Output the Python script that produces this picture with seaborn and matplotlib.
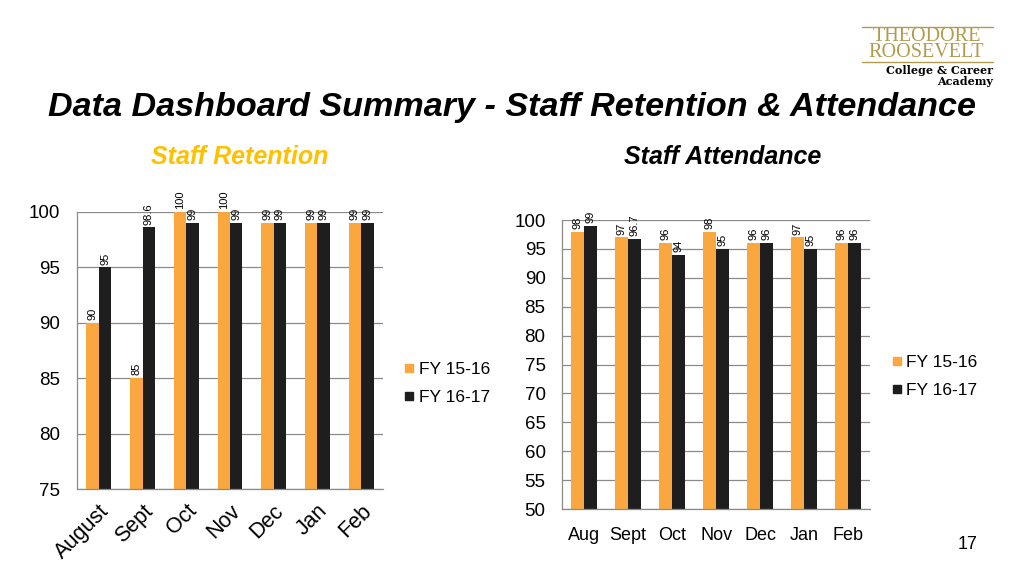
import pandas as pd
import seaborn as sns
import matplotlib.pyplot as plt
import matplotlib.transforms as mtransforms
from matplotlib.lines import Line2D

# === Data ===
ret_months = ["August", "Sept", "Oct", "Nov", "Dec", "Jan", "Feb"]
ret_fy1516 = [90, 85, 100, 100, 99, 99, 99]
ret_fy1617 = [95, 98.6, 99, 99, 99, 99, 99]

att_months = ["Aug", "Sept", "Oct", "Nov", "Dec", "Jan", "Feb"]
att_fy1516 = [98, 97, 96, 98, 96, 97, 96]
att_fy1617 = [99, 96.7, 94, 95, 96, 95, 96]

series = ["FY 15-16", "FY 16-17"]
colors = {"FY 15-16": "#F9A73E", "FY 16-17": "#1E1E1E"}
GRID = "#8A8A8A"


def long_form(months, a, b):
    rows = []
    for m, v in zip(months, a):
        rows.append({"month": m, "fy": series[0], "value": v})
    for m, v in zip(months, b):
        rows.append({"month": m, "fy": series[1], "value": v})
    return pd.DataFrame(rows)


def style_axis(ax, lo, hi, step, n):
    ax.set_ylim(lo, hi)
    ax.set_xlim(-0.5, n - 0.5)
    ax.set_yticks(range(lo, hi + 1, step))
    ax.yaxis.grid(True, color=GRID, linewidth=0.9)
    ax.set_axisbelow(True)
    for s in ["top", "right"]:
        ax.spines[s].set_visible(False)
    for s in ["left", "bottom"]:
        ax.spines[s].set_color(GRID)
        ax.spines[s].set_linewidth(0.9)
    ax.tick_params(axis="y", length=6, color=GRID, labelcolor="black",
                   labelsize=13.5, pad=6)
    ax.tick_params(axis="x", which="major", length=0, labelcolor="black")
    ax.set_xticks([i - 0.5 for i in range(n + 1)], minor=True)
    ax.tick_params(axis="x", which="minor", length=5, color=GRID)
    ax.set_xlabel("")
    ax.set_ylabel("")
    if ax.get_legend() is not None:
        ax.get_legend().remove()


def add_labels(ax):
    for cont in ax.containers:
        ax.bar_label(cont, fmt="%g", rotation=90, fontsize=8, padding=2, clip_on=False)


sns.set_style("white")
plt.rcParams["font.family"] = ["Liberation Sans", "DejaVu Sans"]
plt.rcParams["text.color"] = "black"

fig = plt.figure(figsize=(10.24, 5.76), dpi=100)

# === Staff Retention ===
ax1 = fig.add_axes([0.0752, 0.151, 0.2988, 0.481])
df1 = long_form(ret_months, ret_fy1516, ret_fy1617)
sns.barplot(data=df1, x="month", y="value", hue="fy", palette=colors,
            width=0.57, saturation=1, linewidth=0, edgecolor="none", ax=ax1)
style_axis(ax1, 75, 100, 5, len(ret_months))
add_labels(ax1)
ax1.set_xticks(range(len(ret_months)))
ax1.set_xticklabels(ret_months, rotation=45, ha="right", va="center",
                    rotation_mode="anchor", fontsize=15.5)
shift = mtransforms.ScaledTranslation(7 / 100, -14 / 100, fig.dpi_scale_trans)
for lab in ax1.get_xticklabels():
    lab.set_transform(lab.get_transform() + shift)

# === Staff Attendance ===
ax2 = fig.add_axes([0.549, 0.1163, 0.3008, 0.5017])
df2 = long_form(att_months, att_fy1516, att_fy1617)
sns.barplot(data=df2, x="month", y="value", hue="fy", palette=colors,
            width=0.59, saturation=1, linewidth=0, edgecolor="none", ax=ax2)
style_axis(ax2, 50, 100, 5, len(att_months))
add_labels(ax2)
ax2.tick_params(axis="x", labelsize=13, pad=13)

# === Legends ===
handles = [Line2D([], [], marker="s", linestyle="", markersize=6,
                  color=colors[s], label=s) for s in series]
fig.legend(handles=handles, loc="upper left", bbox_to_anchor=(0.376, 0.399),
           frameon=False, fontsize=12.5, handletextpad=0.05, labelspacing=0.72,
           handlelength=1.0)
fig.legend(handles=handles, loc="upper left", bbox_to_anchor=(0.852, 0.411),
           frameon=False, fontsize=12.5, handletextpad=0.05, labelspacing=0.72,
           handlelength=1.0)

# === Titles ===
fig.text(0.047, 0.814, "Data Dashboard Summary - Staff Retention & Attendance",
         fontsize=24.6, fontweight="bold", fontstyle="italic", va="center")
fig.text(0.234, 0.727, "Staff Retention", fontsize=18, fontweight="bold",
         fontstyle="italic", color="#FFC000", ha="center", va="center")
fig.text(0.706, 0.727, "Staff Attendance", fontsize=18, fontweight="bold",
         fontstyle="italic", color="black", ha="center", va="center")

# === Logo text ===
gold = "#B39B4E"
fig.add_artist(Line2D([0.842, 0.970], [0.953, 0.953], color=gold, linewidth=1))
fig.add_artist(Line2D([0.842, 0.970], [0.892, 0.892], color=gold, linewidth=1))
fig.text(0.905, 0.922, "THEODORE\nROOSEVELT", fontsize=14.5, color=gold,
         ha="center", va="center", linespacing=0.78, family="Liberation Serif")
fig.text(0.97, 0.868, "College & Career\nAcademy", fontsize=8, fontweight="bold",
         ha="right", va="center", multialignment="right", linespacing=1.0,
         family="DejaVu Serif")

fig.text(0.945, 0.054, "17", fontsize=13, ha="center", va="center")

fig.savefig("out.png", dpi=100)
